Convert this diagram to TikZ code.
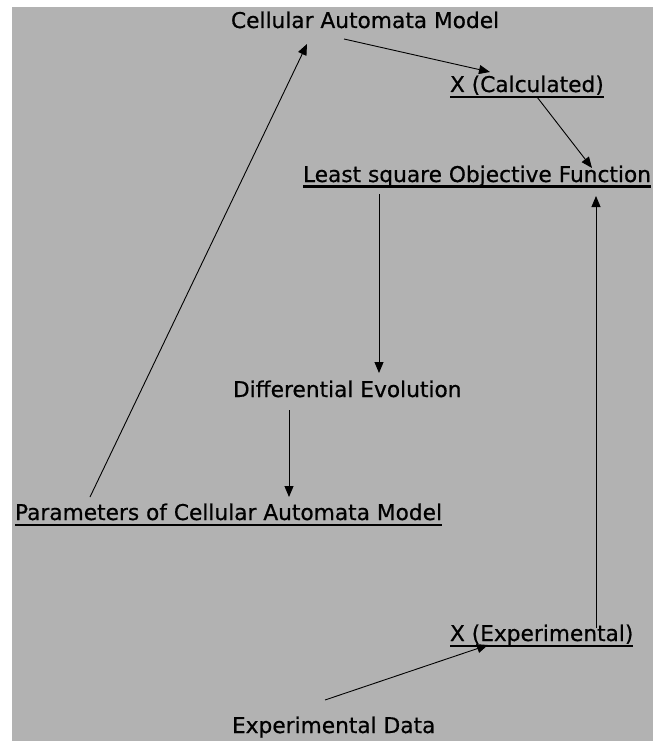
\documentclass[tikz,border=0pt]{standalone}
\usepackage{fontspec}
\setmainfont{DejaVu Sans}[FakeBold=0.6]
\usetikzlibrary{arrows.meta,calc}
\definecolor{bggray}{RGB}{178,178,178}
\tikzset{
  lbl/.style={inner sep=0pt, outer sep=0pt, font=\fontsize{21.7}{26}\selectfont, text=black},
  conn/.style={line width=0.9pt, draw=black, -{Triangle[length=11pt,width=9pt]}},
  ulthick/.style={line width=2.2pt, draw=black},
  ulthin/.style={line width=1.3pt, draw=black}
}
\begin{document}
\begin{tikzpicture}[x=1pt,y=-1pt]
\useasboundingbox (0,0) rectangle (658,741);
\fill[bggray] (12,7) rectangle (653,741);

\node[lbl, anchor=base west] (cam) at (231,28) {Cellular Automata Model};
\node[lbl, anchor=base west] (xcalc) at (450,92) {X (Calculated)};
\node[lbl, anchor=base west] (lsq) at (303,182) {Least square Objective Function};
\node[lbl, anchor=base west] (de) at (233,397) {Differential Evolution};
\node[lbl, anchor=base west] (param) at (15,520) {Parameters of Cellular Automata Model};
\node[lbl, anchor=base west] (xexp) at (450,641) {X (Experimental)};
\node[lbl, anchor=base west] (data) at (232,733) {Experimental Data};

% underlines
\draw[ulthick] ($(xcalc.base west)+(0,5)$) -- ($(xcalc.base east)+(0,5)$);
\draw[ulthick] ($(lsq.base west)+(0,4.5)$) -- ($(lsq.base east)+(0,4.5)$);
\draw[ulthick] ($(param.base west)+(0,5)$) -- ($(param.base east)+(0,5)$);
\draw[ulthin] ($(xexp.base west)+(0,5)$) -- ($(xexp.base east)+(0,5)$);

% connectors
\draw[conn] ($(cam.base west)+(113,11)$) -- ($(xcalc.base west)+(40,-20)$);
\draw[conn] ($(xcalc.base west)+(87,5)$) -- ($(lsq.base west)+(289,-14)$);
\draw[conn] ($(lsq.base west)+(76,12)$) -- ($(de.base west)+(146,-24)$);
\draw[conn] ($(xexp.base west)+(146,-13)$) -- ($(lsq.base west)+(293,14)$);
\draw[conn] ($(de.base west)+(56,13)$) -- ($(param.base west)+(274,-23)$);
\draw[conn] ($(param.base west)+(75,-23)$) -- ($(cam.base west)+(76,16)$);
\draw[conn] ($(data.base west)+(93,-33)$) -- ($(xexp.base west)+(38,4)$);
\end{tikzpicture}
\end{document}
